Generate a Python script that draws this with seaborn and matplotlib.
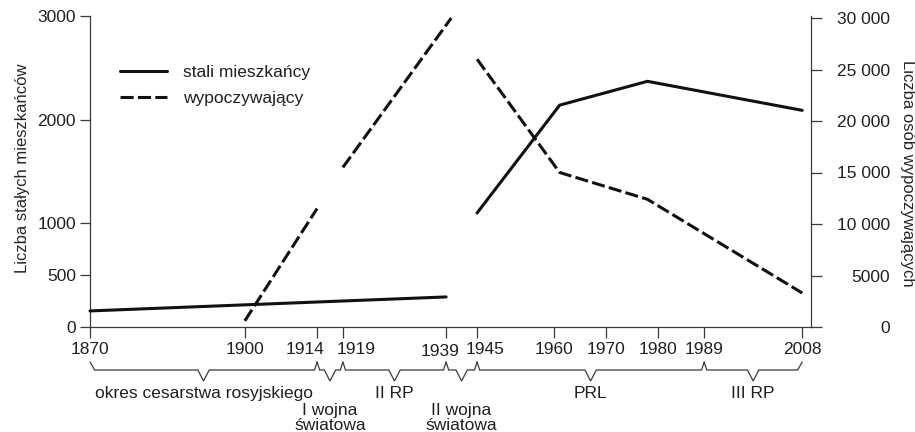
import numpy as np
import pandas as pd
import matplotlib
matplotlib.use("Agg")
import matplotlib.pyplot as plt
import matplotlib.transforms as mtransforms
from matplotlib.lines import Line2D
import seaborn as sns

# ---------------- data ----------------
res_years = [1870, 1939, 1945, 1961, 1978, 2008]
res_values = [155, 290, 1100, 2140, 2370, 2090]
res_segment = [1, 1, 2, 2, 2, 2]

tour_years = [1900, 1914, 1919, 1940, 1945, 1961, 1978, 2008]
tour_values = [600, 11500, 15500, 30000, 26000, 15000, 12400, 3300]
tour_segment = [1, 1, 2, 2, 3, 3, 3, 3]

x_ticks = [1870, 1900, 1914, 1919, 1939, 1945, 1960, 1970, 1980, 1989, 2008]
left_ticks = [0, 500, 1000, 2000, 3000]
right_ticks = [0, 5000, 10000, 15000, 20000, 25000, 30000]
right_tick_labels = ["0", "5000", "10 000", "15 000", "20 000", "25 000", "30 000"]

period_bounds = [(1870, 1914), (1914, 1919), (1919, 1939), (1939, 1945), (1945, 1989), (1989, 2008)]
period_labels = [["okres cesarstwa rosyjskiego"], ["I wojna", "światowa"], ["II RP"],
                 ["II wojna", "światowa"], ["PRL"], ["III RP"]]

legend_labels = ["stali mieszkańcy", "wypoczywający"]
left_ylabel = "Liczba stałych mieszkańców"
right_ylabel = "Liczba osób wypoczywających"

# ---------------- style ----------------
sns.set_theme(style="ticks")
plt.rcParams["font.family"] = ["Liberation Sans", "DejaVu Sans"]
TXT = "#231f20"
SPINE = "#3a3a3a"
LINE = "#111111"
FS = 12.5
plt.rcParams["text.color"] = TXT
plt.rcParams["xtick.color"] = SPINE
plt.rcParams["ytick.color"] = SPINE
plt.rcParams["xtick.labelcolor"] = TXT
plt.rcParams["ytick.labelcolor"] = TXT

W, H = 915, 432
fig = plt.figure(figsize=(W / 100, H / 100), dpi=100)
L, R, T, B = 90, 811, 16, 327
ax = fig.add_axes([L / W, 1 - B / H, (R - L) / W, (B - T) / H])
ax2 = ax.twinx()

dash = (0, (4.3, 1.4))

res_df = pd.DataFrame({"rok": res_years, "liczba": res_values, "odcinek": res_segment})
tour_df = pd.DataFrame({"rok": tour_years, "liczba": tour_values, "odcinek": tour_segment})

sns.lineplot(data=res_df, x="rok", y="liczba", units="odcinek", estimator=None, sort=False,
             ax=ax, color=LINE, linewidth=2.2, legend=False, clip_on=False, zorder=3)
sns.lineplot(data=tour_df, x="rok", y="liczba", units="odcinek", estimator=None, sort=False,
             ax=ax2, color=LINE, linewidth=2.2, linestyle=dash, legend=False, clip_on=False,
             zorder=3)

# axes limits & spines
ax.set_xlim(1870, 2009.7)
ax.set_ylim(0, 3000)
ax2.set_ylim(0, 30000 * 311 / 309)

for a in (ax, ax2):
    a.spines["top"].set_visible(False)
    for s in a.spines.values():
        s.set_color(SPINE)
        s.set_linewidth(0.9)
ax.spines["right"].set_visible(False)
ax2.spines["left"].set_visible(False)
ax2.spines["bottom"].set_visible(False)
ax2.spines["right"].set_visible(True)
ax.grid(False)
ax2.grid(False)

ax.set_xticks(x_ticks)
ax.set_xticklabels([str(y) for y in x_ticks], fontsize=FS)
ax.tick_params(axis="x", length=8, width=0.9, pad=3, direction="out")
# nudge crowded year labels apart (as in the reference)
nudges = {1914: (-12, 0), 1919: (13, 0), 1939: (-6, -2), 1945: (8, 0)}
for yr, lab in zip(x_ticks, ax.get_xticklabels()):
    if yr in nudges:
        dx, dy = nudges[yr]
        lab.set_transform(lab.get_transform() +
                          mtransforms.ScaledTranslation(dx / 100, dy / 100, fig.dpi_scale_trans))

ax.set_yticks(left_ticks)
ax.set_yticklabels([str(v) for v in left_ticks], fontsize=FS)
ax.tick_params(axis="y", length=7.5, width=0.9, pad=2.5, direction="out")

ax2.set_yticks(right_ticks)
ax2.set_yticklabels(right_tick_labels, fontsize=FS)
ax2.tick_params(axis="y", length=8, width=0.9, pad=49, direction="out")
for lab in ax2.get_yticklabels():
    lab.set_horizontalalignment("right")

ax.set_xlabel("")
ax.set_ylabel(left_ylabel, fontsize=12, rotation=90, ha="center", va="center",
              rotation_mode="default")
ax.yaxis.set_label_coords((23 - L) / (R - L), (B - 168) / (B - T))
ax2.set_ylabel(right_ylabel, fontsize=12, rotation=270, ha="center", va="center",
               rotation_mode="default")
ax2.yaxis.set_label_coords((907 - L) / (R - L), (B - 173) / (B - T))

# legend
handles = [Line2D([], [], color=LINE, lw=2.2),
           Line2D([], [], color=LINE, lw=2.2, linestyle=(0, (4.3, 1.4)))]
leg = ax.legend(handles, legend_labels, loc="upper left", frameon=False, fontsize=FS,
                handlelength=2.7, handletextpad=0.92, labelspacing=0.62,
                borderpad=0, borderaxespad=0,
                bbox_to_anchor=(120 / W, 1 - 65 / H), bbox_transform=fig.transFigure)

# period braces below the axis
tr = mtransforms.blended_transform_factory(ax.transData, fig.transFigure)
def fy(p):
    return 1 - p / H

y_top, y_mid, y_bot = 362, 370, 381
first, last = period_bounds[0][0], period_bounds[-1][1]
for (x0, x1), labs in zip(period_bounds, period_labels):
    d0 = 0.9 if x0 == first else 0.5
    d1 = 0.9 if x1 == last else 0.5
    xm = (x0 + x1) / 2
    w = 1.1
    xs = [x0, x0 + d0, xm - w, xm, xm + w, x1 - d1, x1]
    ys = [y_top, y_mid, y_mid, y_bot, y_mid, y_mid, y_top]
    ax.plot(xs, [fy(v) for v in ys], transform=tr, clip_on=False, color=SPINE, lw=0.9,
            solid_joinstyle="miter")
    if len(labs) == 1:
        ax.text(xm, fy(398), labs[0], transform=tr, ha="center", va="baseline",
                fontsize=FS, color=TXT)
    else:
        ax.text(xm, fy(415), labs[0], transform=tr, ha="center", va="baseline",
                fontsize=FS, color=TXT)
        ax.text(xm, fy(429.5), labs[1], transform=tr, ha="center", va="baseline",
                fontsize=FS, color=TXT)

fig.savefig("out.png", dpi=100)
